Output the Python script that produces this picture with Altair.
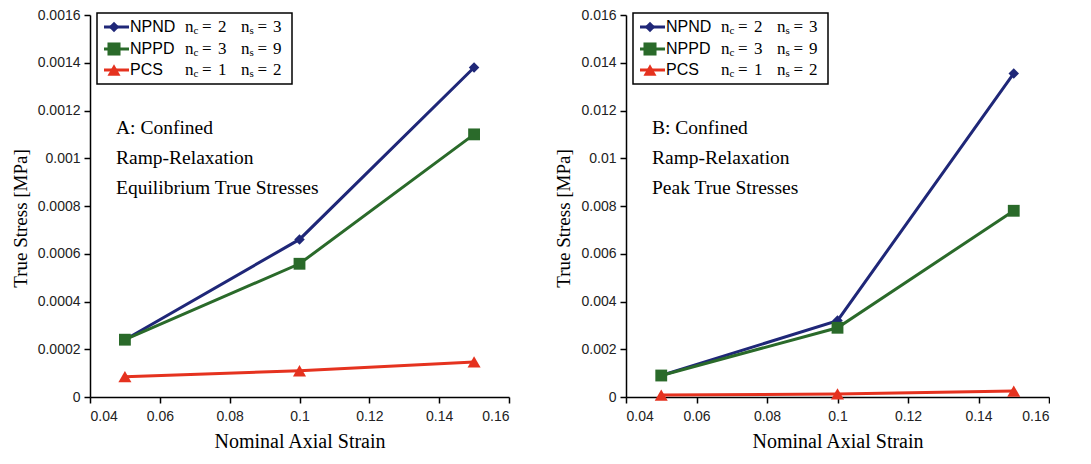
import altair as alt
import pandas as pd

strain = [0.05, 0.10, 0.15]
series = ["NPND", "NPPD", "PCS"]

# Panel A: equilibrium true stresses [MPa]
a_npnd = [0.00024, 0.00066, 0.00138]
a_nppd = [0.00024, 0.000558, 0.00110]
a_pcs = [0.000085, 0.00011, 0.000147]

# Panel B: peak true stresses [MPa]
b_npnd = [0.00090, 0.00320, 0.01355]
b_nppd = [0.00090, 0.00290, 0.00780]
b_pcs = [0.00008, 0.00013, 0.00025]

nc_vals = [2, 3, 1]
ns_vals = [3, 9, 2]

a_ticks = [0, 0.0002, 0.0004, 0.0006, 0.0008, 0.001, 0.0012, 0.0014, 0.0016]
b_ticks = [0, 0.002, 0.004, 0.006, 0.008, 0.01, 0.012, 0.014, 0.016]
x_ticks = [0.04, 0.06, 0.08, 0.1, 0.12, 0.14, 0.16]

a_notes = ["A: Confined", "Ramp-Relaxation", "Equilibrium True Stresses"]
b_notes = ["B: Confined", "Ramp-Relaxation", "Peak True Stresses"]

colors = ["#1f2778", "#2a6a2a", "#e5321f"]
shapes = ["diamond", "square", "triangle-up"]
sizes = [110, 170, 170]

SERIF = "Liberation Serif"
SANS = "Liberation Sans"


def long_df(vals):
    rows = []
    for name, ys in zip(series, vals):
        for x, y in zip(strain, ys):
            rows.append({"series": name, "strain": x, "stress": y})
    return pd.DataFrame(rows)


color_scale = alt.Scale(domain=series, range=colors)
shape_scale = alt.Scale(domain=series, range=shapes)
size_scale = alt.Scale(domain=series, range=sizes)

H = 382
ROW_Y = [12, 34, 55]
NOTE_Y = [113, 143, 173]


def panel(vals, ymax, yticks, notes, w):
    df = long_df(vals)
    x = alt.X("strain:Q", scale=alt.Scale(domain=[0.04, 0.16], nice=False),
              axis=alt.Axis(values=x_ticks, format="~g", title="Nominal Axial Strain",
                            titleFont=SERIF, titleFontSize=20, titleFontWeight="normal",
                            titlePadding=8, labelPadding=6))
    y = alt.Y("stress:Q", scale=alt.Scale(domain=[0, ymax], nice=False),
              axis=alt.Axis(values=yticks, format="~g", title="True Stress [MPa]",
                            titleFont=SERIF, titleFontSize=19, titleFontWeight="normal",
                            titlePadding=7, labelPadding=4, titleY=203))
    base = alt.Chart(df)
    lines = base.mark_line(strokeWidth=3).encode(
        x=x, y=y,
        color=alt.Color("series:N", scale=color_scale, legend=None),
        order=alt.Order("strain:Q"))
    pts = base.mark_point(filled=True, opacity=1).encode(
        x="strain:Q", y="stress:Q",
        color=alt.Color("series:N", scale=color_scale, legend=None),
        shape=alt.Shape("series:N", scale=shape_scale, legend=None),
        size=alt.Size("series:N", scale=size_scale, legend=None))

    one = pd.DataFrame({"a": [0]})
    layers = [lines, pts]
    for t, yy in zip(notes, NOTE_Y):
        layers.append(alt.Chart(one).mark_text(
            font=SERIF, fontSize=19.5, align="left", baseline="middle", color="black", text=t
        ).encode(x=alt.value(26), y=alt.value(yy)))

    # legend box
    layers.append(alt.Chart(one).mark_rect(
        fill="white", stroke="black", strokeWidth=1.5
    ).encode(x=alt.value(7), x2=alt.value(202), y=alt.value(-2), y2=alt.value(69)))

    for name, c, s, sz, nc, ns, yy in zip(series, colors, shapes, sizes, nc_vals, ns_vals, ROW_Y):
        layers.append(alt.Chart(one).mark_rule(strokeWidth=3, color=c).encode(
            x=alt.value(14), x2=alt.value(39), y=alt.value(yy)))
        layers.append(alt.Chart(one).mark_point(filled=True, opacity=1, color=c, shape=s, size=sz).encode(
            x=alt.value(24), y=alt.value(yy)))
        layers.append(alt.Chart(one).mark_text(
            font=SANS, fontSize=16, align="left", baseline="middle", color="black", text=name
        ).encode(x=alt.value(40), y=alt.value(yy)))
        for txt, xp, fs, dy in [("n", 95, 17, 0), ("c", 103.5, 11, 4), ("=", 112, 17, 0), (str(nc), 128, 17, 0),
                                ("n", 151, 17, 0), ("s", 159.5, 11, 4), ("=", 167.5, 17, 0), (str(ns), 183, 17, 0)]:
            layers.append(alt.Chart(one).mark_text(
                font=SERIF, fontSize=fs, align="left", baseline="middle", color="black", text=txt, dy=dy
            ).encode(x=alt.value(xp), y=alt.value(yy)))
    return alt.layer(*layers).properties(width=w, height=H)


left = panel([a_npnd, a_nppd, a_pcs], 0.0016, a_ticks, a_notes, 419)
right = panel([b_npnd, b_nppd, b_pcs], 0.016, b_ticks, b_notes, 423)

chart = alt.hconcat(left, right, spacing=44).properties(
    padding={"left": 3, "top": 0, "right": 0, "bottom": 0}
).configure(background="white").configure_view(
    stroke=None).configure_axis(
    domainColor="black", domainWidth=1.5, tickColor="black", tickWidth=1.5, tickSize=6,
    labelFont=SANS, labelFontSize=14, labelColor="#222", grid=False, titleColor="black"
)

chart.save("out.html", embed_options={"renderer": "svg", "actions": False})
